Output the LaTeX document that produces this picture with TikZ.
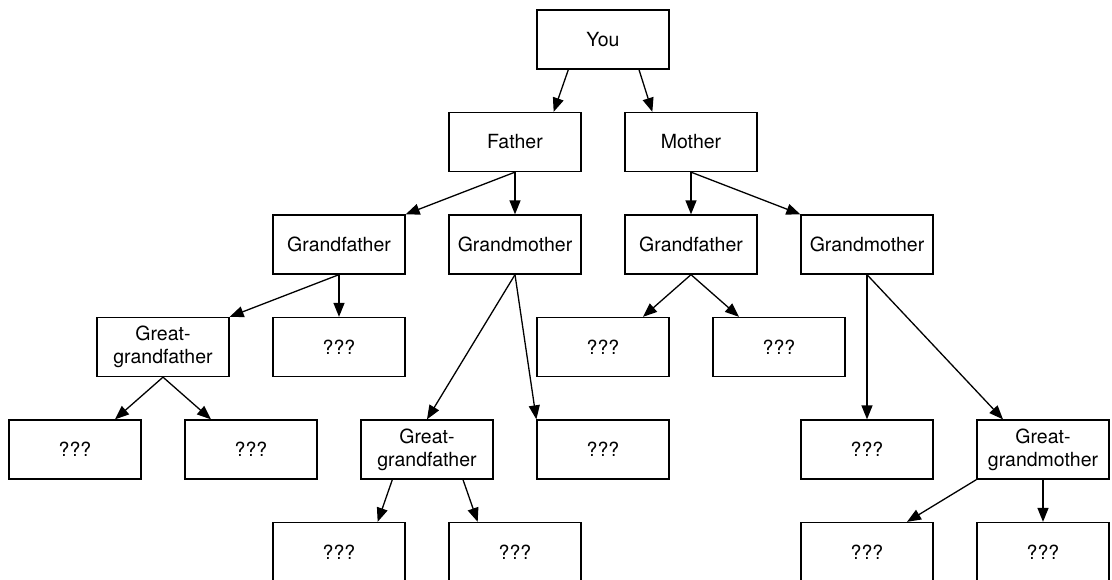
\documentclass[tikz,border=0pt]{standalone}
\usepackage{fontspec}
\setmainfont{TeX Gyre Heros}
\usetikzlibrary{calc,arrows.meta}
% arrow from a point along the parent's bottom edge to a point along the child's top edge
\newcommand\famlink[4]{\draw[link] ($(#1.south west)!#2!(#1.south east)$) -- ($(#3.north west)!#4!(#3.north east)$);}
\begin{document}
\begin{tikzpicture}[x=1pt,y=-1pt,
  person/.style={draw, line width=1.3pt, minimum width=132pt, minimum height=59pt,
    inner sep=0pt, align=center, font=\fontsize{19.5}{23}\selectfont},
  link/.style={line width=1.3pt, -{Triangle[length=14pt,width=11pt]}}]
\clip (0,0) rectangle (1112,579);

% generation 0
\node[person] (you) at (603,39.5) {You};
% generation 1
\node[person] (father) at (515,142) {Father};
\node[person] (mother) at (691,142) {Mother};
% generation 2
\node[person] (gfL) at (339,244.5) {Grandfather};
\node[person] (gmL) at (515,244.5) {Grandmother};
\node[person] (gfR) at (691,244.5) {Grandfather};
\node[person] (gmR) at (867,244.5) {Grandmother};
% generation 3
\node[person] (ggfL) at (163,347) {Great-\\grandfather};
\node[person] (qA) at (339,347) {???};
\node[person] (qB) at (603,347) {???};
\node[person] (qC) at (779,347) {???};
% generation 4
\node[person] (qD) at (75,449.5) {???};
\node[person] (qE) at (251,449.5) {???};
\node[person] (ggfM) at (427,449.5) {Great-\\grandfather};
\node[person] (qF) at (603,449.5) {???};
\node[person] (qG) at (867,449.5) {???};
\node[person] (ggm) at (1043,449.5) {Great-\\grandmother};
% generation 5
\node[person] (qH) at (339,552) {???};
\node[person] (qI) at (515,552) {???};
\node[person] (qJ) at (867,552) {???};
\node[person] (qK) at (1043,552) {???};

% connectors
\famlink{you}{0.24}{father}{0.79}
\famlink{you}{0.77}{mother}{0.21}
\famlink{father}{0.5}{gfL}{1}
\famlink{father}{0.5}{gmL}{0.5}
\famlink{mother}{0.5}{gfR}{0.5}
\famlink{mother}{0.5}{gmR}{0}
\famlink{gfL}{0.5}{ggfL}{1}
\famlink{gfL}{0.5}{qA}{0.5}
\famlink{ggfL}{0.5}{qD}{0.8}
\famlink{ggfL}{0.5}{qE}{0.2}
\famlink{gmL}{0.5}{ggfM}{0.5}
\famlink{gmL}{0.5}{qF}{0}
\famlink{gfR}{0.5}{qB}{0.8}
\famlink{gfR}{0.5}{qC}{0.2}
\famlink{gmR}{0.5}{qG}{0.5}
\famlink{gmR}{0.5}{ggm}{0.2}
\famlink{ggfM}{0.24}{qH}{0.79}
\famlink{ggfM}{0.77}{qI}{0.22}
\famlink{ggm}{0}{qJ}{0.8}
\famlink{ggm}{0.5}{qK}{0.5}
\end{tikzpicture}
\end{document}
